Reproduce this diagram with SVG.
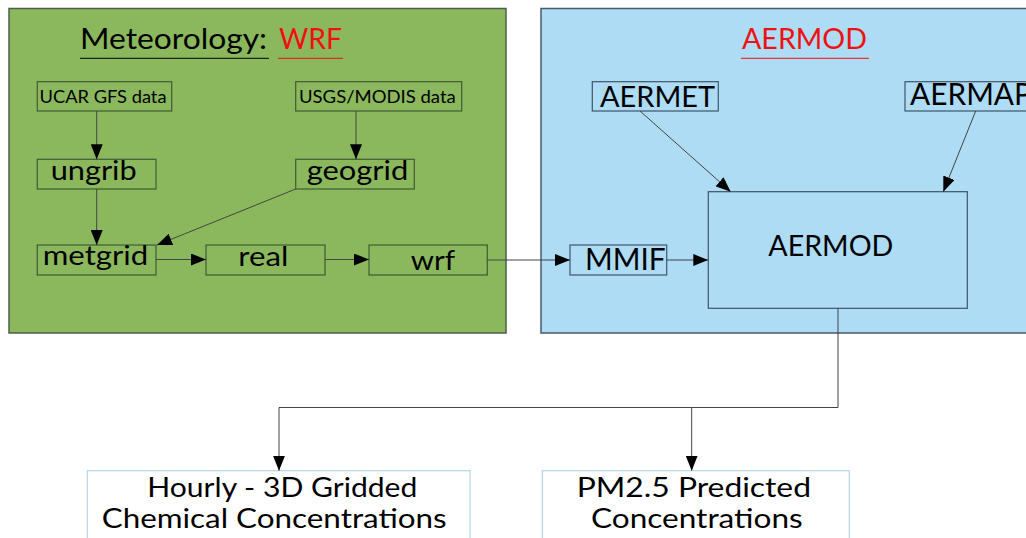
<svg xmlns="http://www.w3.org/2000/svg" width="1026" height="538" viewBox="0 0 1026 538">
<style>
  .panel-g{fill:#8BB85D;stroke:#4E5E4E;stroke-width:1.5}
  .panel-b{fill:#ADDCF4;stroke:#4A5A68;stroke-width:1.5}
  .box-g{fill:none;stroke:#3F5B35;stroke-width:1.2}
  .box-b{fill:none;stroke:#3F5566;stroke-width:1.2}
  .box-w{fill:#FFFFFF;stroke:#B5D5E5;stroke-width:1.2}
  .t{font-family:Lato,"Open Sans","Liberation Sans",sans-serif;fill:#000}
  .red{fill:#F01010}
  .conn{fill:none;stroke:#444;stroke-width:1;marker-end:url(#ah)}
</style>
<defs>
  <marker id="ah" markerUnits="userSpaceOnUse" markerWidth="15" markerHeight="12" refX="15" refY="6" orient="auto" viewBox="0 0 15 12">
    <path d="M0,0 L15,6 L0,12 Z" fill="#000"/>
  </marker>
</defs>
<rect width="1026" height="538" fill="#FFFFFF"/>

<g id="wrf-panel">
  <rect class="panel-g" x="9" y="8.5" width="497" height="324.5"/>
  <text class="t" x="80" y="49" font-size="28" textLength="187" lengthAdjust="spacingAndGlyphs">Meteorology:</text>
  <text class="t red" x="279" y="49" font-size="28" textLength="63" lengthAdjust="spacingAndGlyphs">WRF</text>
  <line x1="80" y1="58.3" x2="269" y2="58.3" stroke="#000" stroke-width="1"/>
  <line x1="278" y1="58.3" x2="343" y2="58.3" stroke="#F01010" stroke-width="1"/>
</g>

<g id="aermod-panel">
  <rect class="panel-b" x="541" y="8.5" width="500" height="324.5"/>
  <text class="t red" x="742" y="49" font-size="29" textLength="125" lengthAdjust="spacingAndGlyphs">AERMOD</text>
  <line x1="741" y1="58.3" x2="869" y2="58.3" stroke="#F01010" stroke-width="1"/>
</g>

<g id="ucar">
  <rect class="box-g" x="37.3" y="81.7" width="134.4" height="29.3"/>
  <text class="t" x="39.5" y="103" font-size="18" textLength="127" lengthAdjust="spacingAndGlyphs">UCAR GFS data</text>
</g>
<g id="usgs">
  <rect class="box-g" x="295.7" y="81.7" width="166" height="29.3"/>
  <text class="t" x="299" y="103" font-size="18" textLength="156.7" lengthAdjust="spacingAndGlyphs">USGS/MODIS data</text>
</g>
<g id="ungrib">
  <rect class="box-g" x="37.3" y="159.3" width="118.7" height="29.7"/>
  <text class="t" x="50.7" y="180" font-size="27" textLength="86" lengthAdjust="spacingAndGlyphs">ungrib</text>
</g>
<g id="geogrid">
  <rect class="box-g" x="295.7" y="159.3" width="118.6" height="29.7"/>
  <text class="t" x="306.7" y="180" font-size="27" textLength="101.6" lengthAdjust="spacingAndGlyphs">geogrid</text>
</g>
<g id="metgrid">
  <rect class="box-g" x="37.3" y="245" width="118.7" height="30"/>
  <text class="t" x="42.7" y="265" font-size="27" textLength="105.6" lengthAdjust="spacingAndGlyphs">metgrid</text>
</g>
<g id="real">
  <rect class="box-g" x="206" y="245" width="119" height="30"/>
  <text class="t" x="238.3" y="265.5" font-size="27" textLength="50" lengthAdjust="spacingAndGlyphs">real</text>
</g>
<g id="wrf">
  <rect class="box-g" x="369" y="245" width="118.3" height="30"/>
  <text class="t" x="410.7" y="270" font-size="27" textLength="44.3" lengthAdjust="spacingAndGlyphs">wrf</text>
</g>

<g id="aermet">
  <rect class="box-b" x="592.3" y="81.7" width="126" height="29.3"/>
  <text class="t" x="600" y="107" font-size="29" textLength="115" lengthAdjust="spacingAndGlyphs">AERMET</text>
</g>
<g id="aermap">
  <rect class="box-b" x="905" y="81.7" width="140" height="29.3"/>
  <text class="t" x="910" y="105" font-size="30" textLength="122" lengthAdjust="spacingAndGlyphs">AERMAP</text>
</g>
<g id="mmif">
  <rect class="box-b" x="570" y="245" width="96.7" height="30"/>
  <text class="t" x="585" y="270" font-size="30" textLength="80.7" lengthAdjust="spacingAndGlyphs">MMIF</text>
</g>
<g id="aermod">
  <rect class="box-b" x="708.3" y="191.7" width="259" height="116.6"/>
  <text class="t" x="768.3" y="256" font-size="29" textLength="125" lengthAdjust="spacingAndGlyphs">AERMOD</text>
</g>

<g id="hourly">
  <rect class="box-w" x="87.3" y="470.7" width="382.7" height="90"/>
  <text class="t" x="147.3" y="496.7" font-size="26" textLength="270" lengthAdjust="spacingAndGlyphs">Hourly - 3D Gridded</text>
  <text class="t" x="101.7" y="528.3" font-size="26" textLength="345" lengthAdjust="spacingAndGlyphs">Chemical Concentrations</text>
</g>
<g id="pm25">
  <rect class="box-w" x="542.3" y="470.7" width="307" height="90"/>
  <text class="t" x="576.7" y="496.7" font-size="26" textLength="234.3" lengthAdjust="spacingAndGlyphs">PM2.5 Predicted</text>
  <text class="t" x="591" y="528.3" font-size="26" textLength="211.7" lengthAdjust="spacingAndGlyphs">Concentrations</text>
</g>

<g id="connectors">
  <path class="conn" d="M96.7,111 V159.3"/>
  <path class="conn" d="M356,111 V159.3"/>
  <path class="conn" d="M96.7,189 V245"/>
  <path class="conn" d="M295.7,189 L157,245"/>
  <path class="conn" d="M156,259.5 H206"/>
  <path class="conn" d="M325,259.5 H369"/>
  <path class="conn" stroke="#777" d="M487.3,260 H570"/>
  <path class="conn" d="M666.7,260 H708.3"/>
  <path class="conn" d="M640,111 L730.7,191.7"/>
  <path class="conn" d="M975.7,111 L943.3,191.7"/>
  <path class="conn" stroke="#666" d="M838,308.3 V407.5 H279 V470.7"/>
  <path class="conn" stroke="#666" d="M691.7,407.5 V470.7"/>
</g>
</svg>
